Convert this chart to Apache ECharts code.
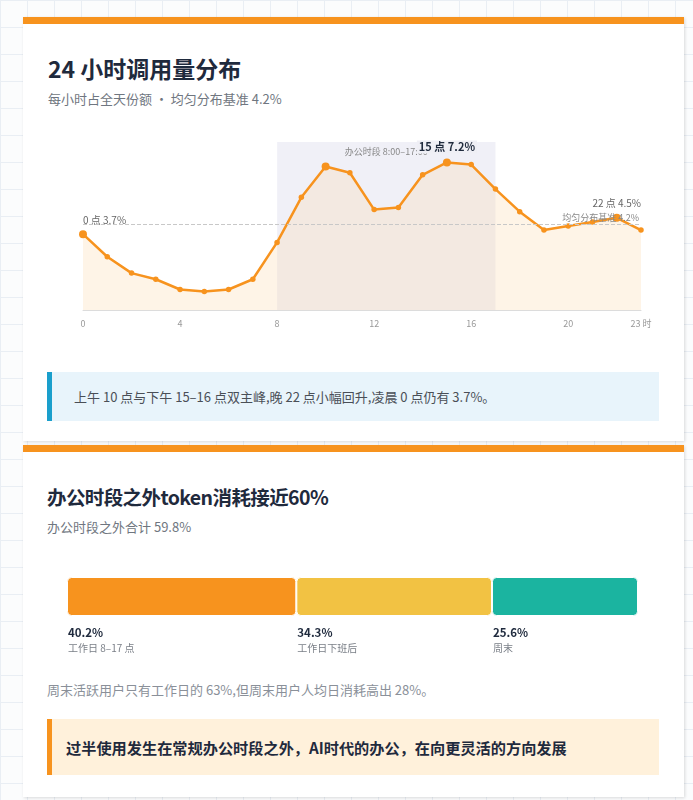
<!DOCTYPE html>
<html><head><meta charset="utf-8">
<script src="https://cdn.jsdelivr.net/npm/echarts@6/dist/echarts.min.js"></script>
<style>
body{margin:0;width:693px;height:800px;overflow:hidden;font-family:"Noto Sans CJK SC","Noto Sans",sans-serif;
background-color:#fbfcfd;
background-image:linear-gradient(#e9eef4 1px,transparent 1px),linear-gradient(90deg,#e9eef4 1px,transparent 1px);
background-size:27px 27px;position:relative;}
.card{position:absolute;left:23px;width:661px;background:#fff;border-top:7px solid #f7931e;box-shadow:1px 1px 3px rgba(0,0,0,0.14);}
.abs{position:absolute;white-space:nowrap;}
.title{font-weight:700;color:#1f2a3d;}
.sub{font-size:13px;color:#6f7680;line-height:18px;}
</style></head>
<body>
<div class="card" style="top:17px;height:417px"></div>
<div class="card" style="top:445px;height:345px"></div>

<div class="abs title" style="left:48px;top:53px;font-size:23px;line-height:30px">24 小时调用量分布</div>
<div class="abs sub" style="left:48px;top:90px">每小时占全天份额 · 均匀分布基准 4.2%</div>
<div id="c1" class="abs" style="left:24px;top:120px;width:660px;height:230px"></div>
<div class="abs" style="left:47px;top:372px;width:607px;height:49px;background:#e8f4fb;border-left:5px solid #1a9fcc;font-size:13px;color:#4a4f57;line-height:49px;padding-left:0">
  <span style="padding-left:22px">上午 10 点与下午 15–16 点双主峰,晚 22 点小幅回升,凌晨 0 点仍有 3.7%。</span></div>

<div class="abs title" style="left:47px;top:482px;font-size:19.5px;letter-spacing:-0.6px;line-height:30px">办公时段之外token消耗接近60%</div>
<div class="abs sub" style="left:47px;top:518px">办公时段之外合计 59.8%</div>
<div id="c2" class="abs" style="left:24px;top:565px;width:660px;height:100px"></div>
<div class="abs sub" style="left:47px;top:681px;color:#8a9099">周末活跃用户只有工作日的 63%,但周末用户人均日消耗高出 28%。</div>
<div class="abs" style="left:47px;top:719px;width:607px;height:56px;background:#fff1db;border-left:5px solid #f7931e;font-size:15.2px;font-weight:700;color:#1f2a3d;line-height:56px">
  <span style="padding-left:14px">过半使用发生在常规办公时段之外，AI时代的办公，在向更灵活的方向发展</span></div>

<script>
// ---- data ----
const hours = ['0','1','2','3','4','5','6','7','8','9','10','11','12','13','14','15','16','17','18','19','20','21','22','23'];
const hourShare = [3.7,2.6,1.8,1.5,1.0,0.9,1.0,1.5,3.3,5.5,7.0,6.7,4.9,5.0,6.6,7.2,7.1,5.9,4.8,3.9,4.1,4.3,4.5,3.9];
const hourTicks = ['0','4','8','12','16','20','23'];
const highlightHours = ['0','10','15','22'];
const labeledHours = ['0','15','22'];
const officeRange = ['8','17'];
const baseline = 4.2;

const segNames = ['工作日 8–17 点','工作日下班后','周末'];
const segValues = [40.2,34.3,25.6];
const segColors = ['#f7931e','#f2c243','#1bb4a0'];

const FONT = '"Noto Sans CJK SC","Noto Sans",sans-serif';
const ORANGE = '#f7931e';

// ---- chart 1 ----
const c1 = echarts.init(document.getElementById('c1'));
const lineData = hourShare.map((v, i) => {
  const h = hours[i];
  const item = { value: v, symbolSize: highlightHours.includes(h) ? 8 : 5.5 };
  if (labeledHours.includes(h)) {
    const lbl = { show: true, formatter: h + ' 点 ' + v + '%', position: 'top', fontFamily: FONT };
    if (h === '0') Object.assign(lbl, { align: 'left', distance: 5, fontSize: 10, color: '#666', backgroundColor: '#fff', padding: [0, 2, 0, 0] });
    else if (h === '15') Object.assign(lbl, { distance: 5, fontSize: 11, fontWeight: 'bold', color: '#1f2a3d', backgroundColor: '#efeff5', padding: [1, 2] });
    else Object.assign(lbl, { distance: 6, fontSize: 10, color: '#666' });
    item.label = lbl;
  }
  return item;
});
c1.setOption({
  animation: false,
  textStyle: { fontFamily: FONT },
  grid: { left: 59, right: 43, top: 22, bottom: 40 },
  xAxis: {
    type: 'category', data: hours, boundaryGap: false,
    axisLine: { lineStyle: { color: '#dcdcdc' } },
    axisTick: { show: false },
    axisLabel: {
      color: '#999', fontSize: 9, margin: 9,
      interval: (idx, val) => hourTicks.includes(val),
      formatter: v => v === '23' ? '23 时' : v
    }
  },
  yAxis: { type: 'value', min: 0, max: 8.2, show: false },
  series: [{
    type: 'line', data: lineData, symbol: 'circle',
    lineStyle: { color: ORANGE, width: 2.5 },
    itemStyle: { color: ORANGE },
    areaStyle: { color: 'rgba(251,214,170,0.4)' },
    markArea: {
      silent: true,
      itemStyle: { color: 'rgba(200,200,225,0.28)' },
      label: { show: true, position: 'insideTop', distance: 5, fontSize: 9, color: '#888', fontFamily: FONT },
      data: [[{ xAxis: officeRange[0], name: '办公时段 8:00–17:00' }, { xAxis: officeRange[1] }]]
    },
    markLine: {
      silent: true, symbol: 'none',
      lineStyle: { type: 'dashed', color: '#c8c8c8', width: 1 },
      label: { position: 'insideEndTop', formatter: '均匀分布基准 ' + baseline + '%', fontSize: 9, color: '#888', distance: 2, fontFamily: FONT },
      data: [{ yAxis: baseline }]
    }
  }]
});

// ---- chart 2 ----
const c2 = echarts.init(document.getElementById('c2'));
c2.setOption({
  animation: false,
  textStyle: { fontFamily: FONT },
  grid: { left: 43, right: 46, top: 12, height: 39 },
  xAxis: { type: 'value', min: 0, max: segValues.reduce((a, b) => a + b, 0), show: false },
  yAxis: { type: 'category', data: ['share'], show: false },
  series: segValues.map((v, i) => ({
    type: 'bar', stack: 'total', name: segNames[i], data: [v], barWidth: 39,
    itemStyle: { color: segColors[i], borderColor: '#fff', borderWidth: 1, borderRadius: 4 },
    label: {
      show: true, position: [0, '100%'], offset: [1, 9], align: 'left', verticalAlign: 'top',
      formatter: '{v|' + v + '%}\n{n|' + segNames[i] + '}',
      rich: {
        v: { fontSize: 11.5, fontWeight: 'bold', color: '#1f2a3d', lineHeight: 15, fontFamily: FONT },
        n: { fontSize: 10, color: '#7a7f87', lineHeight: 17, fontFamily: FONT }
      }
    }
  }))
});
</script>
</body></html>
